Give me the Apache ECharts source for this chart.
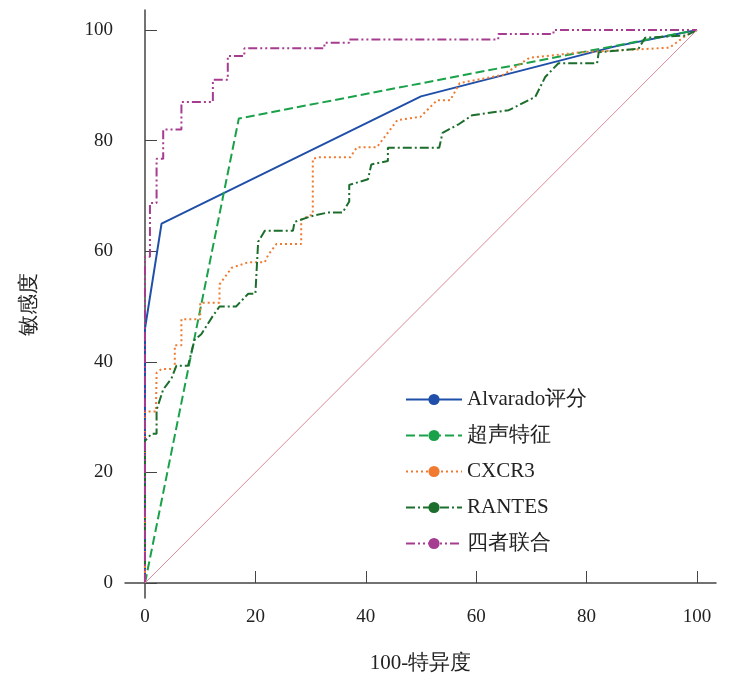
<!DOCTYPE html>
<html><head><meta charset="utf-8">
<script src="https://cdn.jsdelivr.net/npm/echarts@6/dist/echarts.min.js"></script>
<style>body{margin:0;background:#fff}#c{width:743px;height:693px}</style>
</head><body><div id="c"></div>
<script>
var names = ['Alvarado评分', '超声特征', 'CXCR3', 'RANTES', '四者联合'];
var alvarado = [[0,0],[0,46],[3,65],[50,88],[85,97],[100,100]];
var ultrasound = [[0,0],[17,84],[100,100]];
var cxcr3 = [[0,0],[0,31],[2,31],[2,32],[2.1,38],[3,38.7],[5.4,38.7],[5.4,43],[6.6,43],[6.6,47.7],[10,47.7],[10,50.7],[13.5,50.7],[13.5,54],[15.7,57],
  [18.7,58],[21.7,58],[22.3,59.3],[23.8,61.3],[28.3,61.3],[28.3,65.7],[30.4,66.7],[30.4,76.7],[31.6,77],[37.2,77],[38.4,78.8],[42,78.8],
  [45.7,83.7],[49.9,84.3],[52.9,87.3],[55.3,87.3],[57,90.4],[64.9,91.9],[69.7,95],[79.4,96],[95,96.8],[98,99],[100,100]];
var rantes = [[0,0],[0,25.7],[1.2,27],[2.1,27],[2.1,31.3],[3.3,35],[4.8,37],[5.7,39.3],[7.8,39.3],[9,44],[10.2,45],[12.3,48.3],[13.5,50],[16.5,50],
  [18.7,52.3],[20,52.3],[20.5,61.7],[21.7,63.7],[26.8,63.7],[27.1,65.3],[30,66.3],[33.1,67],[35.8,67],[37,69],[37,72],[40.4,73],[41,75.7],
  [44,76.3],[44,78.7],[53.3,78.7],[53.9,81.4],[56.9,83],[59.3,84.6],[65.9,85.5],[70.7,87.9],[72.5,91.5],[74.9,94],[81.9,94],[82.2,96],
  [89.4,96.6],[90.6,98.6],[98,99],[100,100]];
var combined = [[0,0],[0,47],[0,59],[0.9,59],[0.9,68.7],[2.1,68.7],[2.1,76.7],[3.3,76.7],[3.3,82],[6.6,82],[6.6,87],[12.3,87],[12.3,91],[15,91],
  [15,95.3],[18,95.3],[18,96.7],[32.5,96.7],[32.5,97.7],[37,97.7],[37,98.3],[64,98.3],[64,99.3],[74,99.3],[74,100],[100,100]];
var reference = [[0,0],[100,100]];
var ticks = [0,20,40,60,80,100];

var font = 'Liberation Serif';
var colors = ['#1f4fa8','#1aa24a','#f07a30','#1c6e2c','#a63c90'];
var types = ['solid',[9,4],[2,3],[9,3,2,3],[9,3,2,3,2,3]];
var datas = [alvarado, ultrasound, cxcr3, rantes, combined];
var series = datas.map(function (d, i) {
  return {name: names[i], type: 'line', data: d, symbol: 'none', color: colors[i],
    lineStyle: {width: 2, type: types[i], color: colors[i]}};
});
series.push({name: 'ref', type: 'line', data: reference, symbol: 'none', silent: true,
  lineStyle: {width: 1, color: '#d88a9a'}});

var chart = echarts.init(document.getElementById('c'));
chart.setOption({
  animation: false,
  grid: {left: 125, right: 27, top: 10, bottom: 95},
  legend: {orient: 'vertical', left: 400, top: 384, itemGap: 15, itemWidth: 56, itemHeight: 14,
    data: names, textStyle: {fontFamily: font, fontSize: 21, color: '#222'}},
  xAxis: {type: 'value', min: -3.62, max: 103.44,
    name: '100-特异度', nameLocation: 'middle', nameGap: 55,
    nameTextStyle: {fontFamily: font, fontSize: 21, color: '#222'},
    axisLine: {lineStyle: {color: '#444', width: 1.5}},
    axisTick: {inside: true, length: 12, customValues: ticks, lineStyle: {color: '#444'}},
    axisLabel: {fontFamily: font, fontSize: 19, color: '#222', margin: 10, customValues: ticks},
    splitLine: {show: false}},
  yAxis: {type: 'value', min: -2.71, max: 103.62,
    name: '敏感度', nameLocation: 'middle', nameGap: 85,
    nameTextStyle: {fontFamily: font, fontSize: 21, color: '#222'},
    axisLine: {lineStyle: {color: '#444', width: 1.5}},
    axisTick: {inside: true, length: 12, customValues: ticks, lineStyle: {color: '#444'}},
    axisLabel: {fontFamily: font, fontSize: 19, color: '#222', margin: 12, customValues: ticks},
    splitLine: {show: false}},
  series: series
});
</script></body></html>
